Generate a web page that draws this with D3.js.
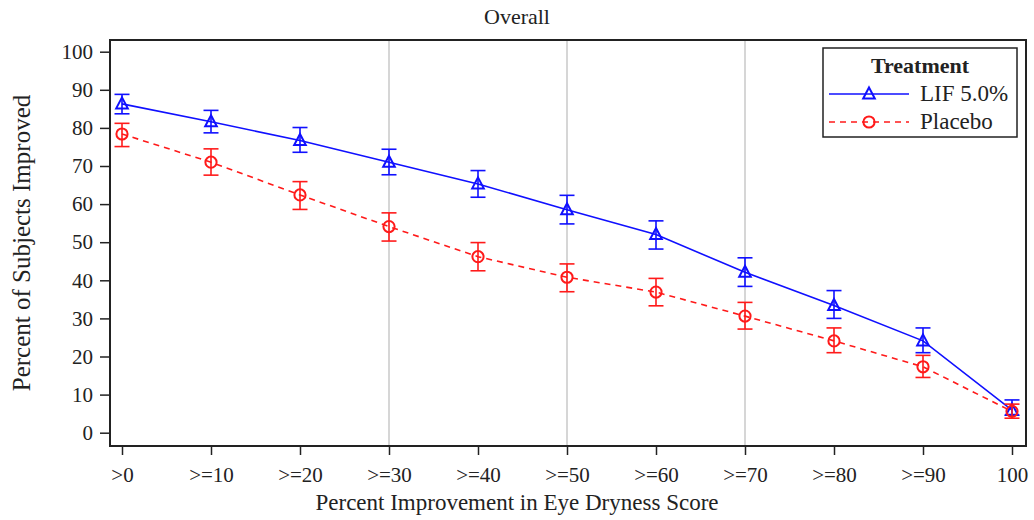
<!DOCTYPE html>
<html>
<head>
<meta charset="utf-8">
<script src="https://cdn.jsdelivr.net/npm/d3@7"></script>
<style>
    body { margin: 0; background: #fff; }
    text { font-family: "Liberation Serif", "DejaVu Serif", serif; fill: #222; }
</style>
</head>
<body>
<div id="chart"></div>
<script>
    // data
    var categories = [">0", ">=10", ">=20", ">=30", ">=40", ">=50", ">=60", ">=70", ">=80", ">=90", "100"];
    var lifValues = [86.3, 81.6, 76.7, 71.0, 65.3, 58.5, 52.0, 42.1, 33.4, 24.1, 5.9];
    var lifLower = [83.7, 78.7, 73.6, 67.7, 61.8, 54.8, 48.2, 38.4, 30.0, 21.0, 4.6];
    var lifUpper = [88.8, 84.6, 80.1, 74.4, 68.8, 62.3, 55.6, 45.9, 37.3, 27.5, 8.6];
    var placeboValues = [78.4, 71.0, 62.4, 54.1, 46.2, 40.8, 36.9, 30.6, 24.1, 17.3, 5.6];
    var placeboLower = [75.1, 67.6, 58.6, 50.3, 42.5, 37.0, 33.3, 27.2, 21.0, 14.5, 3.8];
    var placeboUpper = [81.2, 74.5, 65.9, 57.7, 49.9, 44.3, 40.5, 34.2, 27.5, 20.3, 7.5];
    var yTicks = [0, 10, 20, 30, 40, 50, 60, 70, 80, 90, 100];
    var gridCats = [">=30", ">=50", ">=70"];

    var W = 1034, H = 520;
    var frame = { left: 110, right: 1026, top: 40, bottom: 446 };

    var svg = d3.select("#chart").append("svg")
        .attr("width", W).attr("height", H);

    // scales
    var x = d3.scalePoint()
        .domain(categories)
        .range([122, 1012]);
    var y = d3.scaleLinear()
        .domain([0, 100])
        .range([432.7, 51.7]);

    // reference lines
    svg.selectAll(".grid")
        .data(gridCats)
        .enter().append("line")
        .attr("x1", function (d) { return x(d); })
        .attr("x2", function (d) { return x(d); })
        .attr("y1", frame.top).attr("y2", frame.bottom)
        .attr("stroke", "#c8c8c8").attr("stroke-width", 1.5);

    // axes
    var yAxis = svg.append("g")
        .attr("transform", "translate(" + frame.left + ",0)")
        .call(d3.axisLeft(y).tickValues(yTicks).tickSize(10).tickPadding(7));
    var xAxis = svg.append("g")
        .attr("transform", "translate(0," + frame.bottom + ")")
        .call(d3.axisBottom(x).tickSize(9).tickPadding(12));

    [yAxis, xAxis].forEach(function (g) {
        g.select(".domain").remove();
        g.selectAll("line").attr("stroke", "#222").attr("stroke-width", 1.5);
        g.selectAll("text").attr("font-size", 21).attr("fill", "#333")
            .attr("font-family", "Liberation Serif, serif");
    });

    // frame
    svg.append("rect")
        .attr("x", frame.left).attr("y", frame.top)
        .attr("width", frame.right - frame.left)
        .attr("height", frame.bottom - frame.top)
        .attr("fill", "none").attr("stroke", "#222").attr("stroke-width", 2);

    // series
    var series = [
        { name: "LIF 5.0%", color: "#1010ff", dash: null, marker: "triangle",
          values: lifValues, lower: lifLower, upper: lifUpper },
        { name: "Placebo", color: "#ff1a1a", dash: "6,5", marker: "circle",
          values: placeboValues, lower: placeboLower, upper: placeboUpper }
    ];

    function drawMarker(g, type, cx, cy, color) {
        if (type == "triangle") {
            g.append("path")
                .attr("d", "M" + cx + "," + (cy - 6.5) + " L" + (cx + 5.8) + "," + (cy + 4.5) +
                    " L" + (cx - 5.8) + "," + (cy + 4.5) + " Z")
                .attr("fill", "none").attr("stroke", color).attr("stroke-width", 2);
        } else {
            g.append("circle")
                .attr("cx", cx).attr("cy", cy).attr("r", 5.6)
                .attr("fill", "none").attr("stroke", color).attr("stroke-width", 2);
        }
    }

    var line = d3.line()
        .x(function (d, i) { return x(categories[i]); })
        .y(function (d) { return y(d); });

    series.forEach(function (s) {
        var g = svg.append("g");
        g.append("path")
            .datum(s.values)
            .attr("d", line)
            .attr("fill", "none")
            .attr("stroke", s.color)
            .attr("stroke-width", 1.6)
            .attr("stroke-dasharray", s.dash);

        // error bars
        categories.forEach(function (c, i) {
            var cx = x(c);
            g.append("line")
                .attr("x1", cx).attr("x2", cx)
                .attr("y1", y(s.lower[i])).attr("y2", y(s.upper[i]))
                .attr("stroke", s.color).attr("stroke-width", 1.6);
            [s.lower[i], s.upper[i]].forEach(function (v) {
                g.append("line")
                    .attr("x1", cx - 7.5).attr("x2", cx + 7.5)
                    .attr("y1", y(v)).attr("y2", y(v))
                    .attr("stroke", s.color).attr("stroke-width", 1.6);
            });
            drawMarker(g, s.marker, cx, y(s.values[i]), s.color);
        });
    });

    // titles
    svg.append("text")
        .attr("x", 517).attr("y", 24)
        .attr("text-anchor", "middle")
        .attr("font-size", 22)
        .text("Overall");

    svg.append("text")
        .attr("x", 517).attr("y", 510)
        .attr("text-anchor", "middle")
        .attr("font-size", 23)
        .text("Percent Improvement in Eye Dryness Score");

    svg.append("text")
        .attr("transform", "translate(30,243) rotate(-90)")
        .attr("text-anchor", "middle")
        .attr("font-size", 25)
        .text("Percent of Subjects Improved");

    // legend
    var legend = svg.append("g");
    legend.append("rect")
        .attr("x", 823).attr("y", 48)
        .attr("width", 194).attr("height", 89)
        .attr("fill", "#fff").attr("stroke", "#222").attr("stroke-width", 1.5);
    legend.append("text")
        .attr("x", 920).attr("y", 73)
        .attr("text-anchor", "middle")
        .attr("font-size", 22).attr("font-weight", "bold")
        .attr("fill", "#111")
        .text("Treatment");

    series.forEach(function (s, i) {
        var ly = 94 + i * 28;
        legend.append("line")
            .attr("x1", 829).attr("x2", 909)
            .attr("y1", ly).attr("y2", ly)
            .attr("stroke", s.color).attr("stroke-width", 1.6)
            .attr("stroke-dasharray", s.dash);
        drawMarker(legend, s.marker, 869, ly, s.color);
        legend.append("text")
            .attr("x", 920).attr("y", ly + 7)
            .attr("font-size", 23)
            .attr("fill", "#111")
            .text(s.name);
    });
</script>
</body>
</html>
